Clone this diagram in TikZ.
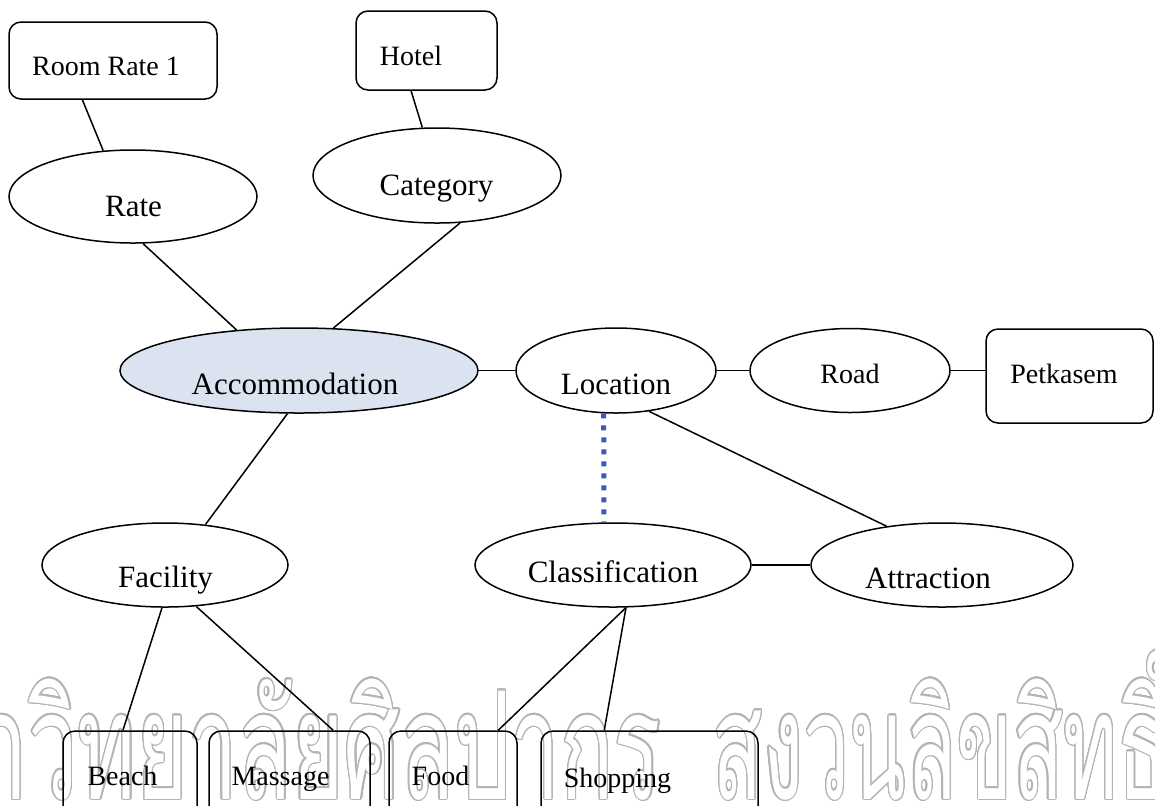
\documentclass[tikz,border=0pt]{standalone}
\usepackage{fontspec}
\setmainfont{Liberation Serif}
\newfontfamily\thaifont[Script=Thai]{Loma}
\usepackage{graphicx}
\usepackage[copies]{contour}
\contourlength{0.6pt}
\contournumber{24}
\usetikzlibrary{shapes.geometric,calc}
\definecolor{accfill}{HTML}{DCE3F0}
\definecolor{dotblue}{HTML}{3A5AB4}
\definecolor{wmgray}{HTML}{B4B4B4}
\newcommand{\wmtext}[2]{{\color{white}\contour{wmgray}{\scalebox{#1}[1]{#2}}}}

\begin{document}
\begin{tikzpicture}[x=0.5pt,y=-0.5pt,line width=0.75pt,
    ent/.style={draw,ellipse,inner sep=0pt},
    val/.style={draw,rectangle,rounded corners=6pt,inner sep=0pt},
    big/.style={anchor=base,inner sep=0pt,font=\fontsize{15.5}{18}\selectfont},
    small/.style={anchor=base,inner sep=0pt,font=\fontsize{14}{17}\selectfont},
    dotline/.style={draw=dotblue,line width=2.5pt,dash pattern=on 2.5pt off 3.5pt},
    wmark/.style={inner sep=0pt,font=\thaifont\fontsize{75}{85}\selectfont}]

    \useasboundingbox (0,0) rectangle (1155,805);

    % watermark
    \node[wmark,anchor=base east] (wm1) at (662,799) {\wmtext{0.59}{มหาวิทยาลัยศิลปากร}};
    \node[wmark,anchor=base west] (wm2) at (712,799) {\wmtext{0.55}{สงวนลิขสิทธิ์}};

    % top
    \node[val,minimum width=104pt,minimum height=38.5pt] (rr) at (113,60.5) {};
    \node[val,minimum width=70.5pt,minimum height=39.5pt] (hotel) at (426.5,50.5) {};
    \node[ent,minimum width=124pt,minimum height=46.5pt] (rate) at (133,196.5) {};
    \node[ent,minimum width=124pt,minimum height=47.5pt] (cat) at (437,175.5) {};

    % middle row
    \node[ent,fill=accfill,minimum width=179pt,minimum height=42.5pt] (acc) at (299,370.5) {};
    \node[ent,minimum width=100pt,minimum height=42.5pt] (loc) at (616,370.5) {};
    \node[ent,minimum width=100pt,minimum height=42pt] (road) at (850,370.5) {};
    \node[val,minimum width=83.5pt,minimum height=47pt] (pet) at (1069.5,376) {};

    % lower row
    \node[ent,minimum width=123pt,minimum height=42pt] (fac) at (165,565) {};
    \node[ent,minimum width=138pt,minimum height=42pt] (cls) at (613,565) {};
    \node[ent,minimum width=131pt,minimum height=42pt] (attr) at (942,565) {};

    % bottom boxes
    \node[val,minimum width=67pt,minimum height=49.5pt] (beach) at (130,780.5) {};
    \node[val,minimum width=80.5pt,minimum height=49.5pt] (massage) at (289.5,780.5) {};
    \node[val,minimum width=64pt,minimum height=49.5pt] (food) at (453,780.5) {};
    \node[val,minimum width=108.5pt,minimum height=49.5pt] (shop) at (649.5,780.5) {};

    % labels
    \node[small] (rr-l) at (106,75) {Room Rate 1};
    \node[small] (hotel-l) at (411,65) {Hotel};
    \node[big] (rate-l) at (133.5,216) {Rate};
    \node[big] (cat-l) at (436.5,195) {Category};
    \node[big] (acc-l) at (295,394) {Accommodation};
    \node[big] (loc-l) at (616,394) {Location};
    \node[small] (road-l) at (850,383) {Road};
    \node[small] (pet-l) at (1064,383) {Petkasem};
    \node[big] (fac-l) at (165.5,587) {Facility};
    \node[big] (cls-l) at (613,582) {Classification};
    \node[big] (attr-l) at (928,588) {Attraction};
    \node[small] (beach-l) at (122.5,785) {Beach};
    \node[small] (massage-l) at (280.5,785) {Massage};
    \node[small] (food-l) at (440.5,785) {Food};
    \node[small] (shop-l) at (617.5,787) {Shopping};

    % links
    \draw (rr.-128) -- (rate.123);
    \draw (hotel.-111) -- (cat.107);
    \draw (rate.-78) -- (acc.147);
    \draw (cat.-64) -- (acc.51);
    \draw (acc) -- (loc);
    \draw (loc) -- (road);
    \draw (road) -- (road -| pet.west);
    \draw (acc.-105) -- (fac.45);
    \draw (loc.-51) -- (attr.145);
    \draw[dotline] (loc.-106) -- (cls.102);
    \draw (cls) -- (attr);
    \draw (fac.-94) -- (beach.98);
    \draw (fac.-53) -- (massage.49);
    \draw (cls.-73) -- (food.48);
    \draw (cls.-73) -- (shop.132);

\end{tikzpicture}
\end{document}
